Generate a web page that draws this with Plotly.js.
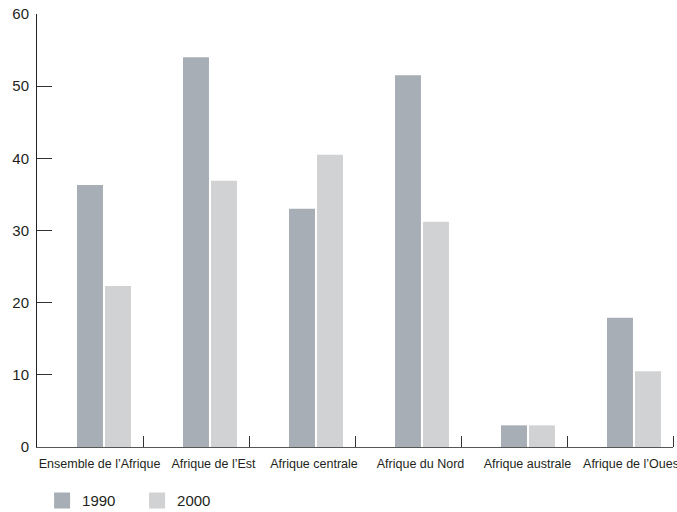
<!DOCTYPE html>
<html><head><meta charset="utf-8">
<script src="https://cdn.plot.ly/plotly-3.0.1.min.js"></script>
<style>html,body{margin:0;padding:0;background:#fff}#c{width:677px;height:512px}</style>
</head><body><div id="c"></div>
<script>
const categories = ["Ensemble de l\u2019Afrique","Afrique de l\u2019Est","Afrique centrale","Afrique du Nord","Afrique australe","Afrique de l\u2019Ouest"];
const years = ["1990","2000"];
const values1990 = [36.3, 54.0, 33.0, 51.5, 3.0, 17.9];
const values2000 = [22.3, 36.9, 40.5, 31.2, 3.0, 10.5];
const yTicks = [0,10,20,30,40,50,60];
const colors = ['#a7aeb5','#d1d2d4'];

const pos = categories.map((c,i)=>i);
const labelShift = [0.09, 0.165, 0.113, 0.118, 0.127, 0.12];
const bw = 0.245;
const traces = [
  {type:'bar', x:pos, y:values1990, name:years[0], width:bw, offset:-0.1226,
   marker:{color:colors[0]}, showlegend:false},
  {type:'bar', x:pos, y:values2000, name:years[1], width:bw, offset:0.1415,
   marker:{color:colors[1]}, showlegend:false},
  {type:'scatter', mode:'markers', x:[null], y:[null], name:years[0],
   marker:{symbol:'square', size:20, color:colors[0]}, showlegend:true},
  {type:'scatter', mode:'markers', x:[null], y:[null], name:years[1],
   marker:{symbol:'square', size:20, color:colors[1]}, showlegend:true}
];
const layout = {
  width:677, height:512,
  margin:{l:37, r:4, t:14, b:65},
  paper_bgcolor:'#fff', plot_bgcolor:'#fff',
  font:{family:'Liberation Sans, Arial, sans-serif', color:'#231f20'},
  barmode:'overlay',
  showlegend:true,
  legend:{orientation:'h', x:0.008, xanchor:'left', yref:'container', y:0.054, yanchor:'top',
          font:{size:15}, itemwidth:30, entrywidth:50, traceorder:'normal'},
  xaxis:{range:[-0.5,5.5], tickmode:'array',
         tickvals:pos.map((p,i)=>p+labelShift[i]), ticktext:categories,
         ticks:'', showgrid:false, zeroline:false, tickangle:0,
         showline:true, linecolor:'#555', linewidth:1,
         tickfont:{size:12.5}, ticklabeloverflow:'allow', ticklabelstandoff:5,
         automargin:false,
         minor:{tickmode:'array', tickvals:[0.5,1.5,2.5,3.5,4.5,5.5], ticks:'inside', ticklen:11, tickcolor:'#333', tickwidth:1, showgrid:false},
         fixedrange:true},
  yaxis:{range:[0,60], tickmode:'array', tickvals:yTicks,
         ticks:'inside', ticklen:15, tickcolor:'#333', tickwidth:1,
         showgrid:false, zeroline:false, showline:true, linecolor:'#222', linewidth:1,
         tickfont:{size:15}, ticklabelstandoff:4, automargin:false, fixedrange:true}
};
Plotly.newPlot('c', traces, layout, {displayModeBar:false, staticPlot:true});
</script></body></html>
